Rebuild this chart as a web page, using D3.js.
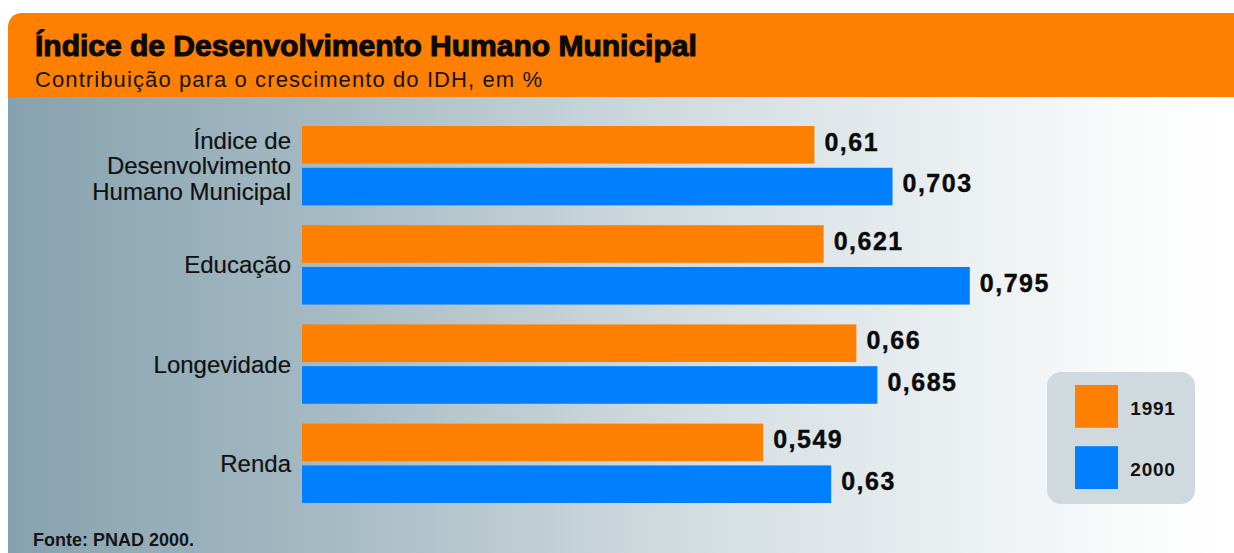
<!DOCTYPE html>
<html>
<head>
<meta charset="utf-8">
<script src="https://cdn.jsdelivr.net/npm/d3@7"></script>
<style>
  html, body { margin: 0; padding: 0; background: #fff; }
  svg { display: block; font-family: "Liberation Sans", Arial, sans-serif; }
</style>
</head>
<body>
<div id="chart"></div>
<script>
const categories = ["IDHM", "Educação", "Longevidade", "Renda"];
const categoryLabels = [
  ["Índice de", "Desenvolvimento", "Humano Municipal"],
  ["Educação"],
  ["Longevidade"],
  ["Renda"]
];
const years = ["1991", "2000"];
const values1991 = [0.61, 0.621, 0.66, 0.549];
const values2000 = [0.703, 0.795, 0.685, 0.63];
const title = "Índice de Desenvolvimento Humano Municipal";
const subtitle = "Contribuição para o crescimento do IDH, em %";
const source = "Fonte: PNAD 2000.";

const colors = { "1991": "#ff8000", "2000": "#0080ff" };

const width = 1234, height = 553;

const svg = d3.select("#chart")
  .append("svg")
  .attr("width", width)
  .attr("height", height);

// background gradient
const defs = svg.append("defs");
const grad = defs.append("linearGradient")
  .attr("id", "bg")
  .attr("x1", "0%").attr("x2", "100%")
  .attr("y1", "0%").attr("y2", "0%");
[[0, "#86a2af"], [0.25, "#a4b9c2"], [0.55, "#d2dce0"], [0.78, "#ebf0f2"], [0.93, "#fbfcfc"], [1, "#ffffff"]]
  .forEach(([o, c]) => grad.append("stop").attr("offset", o).attr("stop-color", c));

const panelX = 8, panelY = 13, headerH = 84;

// panel with rounded top-left corner
const r = 16;
svg.append("path")
  .attr("d", `M${panelX},${height} L${panelX},${panelY + r} Q${panelX},${panelY} ${panelX + r},${panelY} L${width},${panelY} L${width},${height} Z`)
  .attr("fill", "url(#bg)");

svg.append("path")
  .attr("d", `M${panelX},${panelY + headerH} L${panelX},${panelY + r} Q${panelX},${panelY} ${panelX + r},${panelY} L${width},${panelY} L${width},${panelY + headerH} Z`)
  .attr("fill", "#ff8000");

svg.append("text")
  .attr("x", 35)
  .attr("y", 56)
  .attr("font-size", 30)
  .attr("font-weight", "bold")
  .attr("fill", "#0a0a0a")
  .attr("stroke", "#0a0a0a")
  .attr("stroke-width", 1.1)
  .text(title);

svg.append("text")
  .attr("x", 35)
  .attr("y", 87)
  .attr("font-size", 22)
  .attr("letter-spacing", 1.1)
  .attr("fill", "#141414")
  .text(subtitle);

// scales
const x = d3.scaleLinear()
  .domain([0, 1])
  .range([302, 1142]);

const y = d3.scaleBand()
  .domain(categories)
  .range([126, 503])
  .paddingInner(0.2);

const ySub = d3.scaleBand()
  .domain(years)
  .range([0, y.bandwidth()])
  .paddingInner(0.1);

const rows = categories.map((c, i) => ({
  category: c,
  values: [
    { year: "1991", value: values1991[i] },
    { year: "2000", value: values2000[i] }
  ]
}));

// y axis with multi-line labels
const yAxis = d3.axisLeft(y).tickSize(0).tickPadding(11);
const yAxisEl = svg.append("g")
  .attr("transform", `translate(${x(0)},0)`)
  .call(yAxis);
yAxisEl.select(".domain").remove();
yAxisEl.selectAll(".tick text")
  .attr("font-size", 24)
  .attr("font-family", "Liberation Sans, Arial, sans-serif")
  .attr("fill", "#111")
  .attr("stroke", "#111")
  .attr("stroke-width", 0.2)
  .each(function (d) {
    const lines = categoryLabels[categories.indexOf(d)];
    const t = d3.select(this).text(null).attr("dy", null);
    const lh = 25.5;
    lines.forEach((line, k) => {
      t.append("tspan")
        .attr("x", -11)
        .attr("dy", k === 0 ? `${0.35 * 24 - (lines.length - 1) * lh / 2}px` : `${lh}px`)
        .text(line);
    });
  });

// bars
const groups = svg.selectAll(".group")
  .data(rows)
  .join("g")
  .attr("class", "group")
  .attr("transform", d => `translate(0,${y(d.category)})`);

groups.selectAll("rect")
  .data(d => d.values)
  .join("rect")
  .attr("x", x(0))
  .attr("y", d => ySub(d.year))
  .attr("width", d => x(d.value) - x(0))
  .attr("height", ySub.bandwidth())
  .attr("fill", d => colors[d.year]);

groups.selectAll(".value")
  .data(d => d.values)
  .join("text")
  .attr("class", "value")
  .attr("x", d => x(d.value) + 10)
  .attr("y", d => ySub(d.year) + ySub.bandwidth() / 2 - 3)
  .attr("dy", "0.35em")
  .attr("font-size", 25)
  .attr("font-weight", "bold")
  .attr("letter-spacing", 1.5)
  .attr("fill", "#0a0a0a")
  .attr("stroke", "#0a0a0a")
  .attr("stroke-width", 0.4)
  .text(d => String(d.value).replace(".", ","));

// legend
const legend = svg.append("g").attr("transform", "translate(1047,372)");
legend.append("rect")
  .attr("width", 148)
  .attr("height", 132)
  .attr("rx", 14)
  .attr("fill", "#d0dade");
const legendY = d3.scaleBand().domain(years).range([13, 117]).paddingInner(0.3);
legend.selectAll(".sw")
  .data(years)
  .join("rect")
  .attr("class", "sw")
  .attr("x", 28)
  .attr("y", d => legendY(d))
  .attr("width", 43)
  .attr("height", legendY.bandwidth())
  .attr("fill", d => colors[d]);
legend.selectAll(".lt")
  .data(years)
  .join("text")
  .attr("class", "lt")
  .attr("x", 106)
  .attr("y", d => legendY(d) + legendY.bandwidth() / 2 + 2)
  .attr("dy", "0.35em")
  .attr("text-anchor", "middle")
  .attr("font-size", 19)
  .attr("font-weight", "bold")
  .attr("letter-spacing", 0.8)
  .attr("fill", "#111")
  .text(d => d);

svg.append("text")
  .attr("x", 33)
  .attr("y", 546)
  .attr("font-size", 18)
  .attr("font-weight", "bold")
  .attr("fill", "#151515")
  .text(source);
</script>
</body>
</html>
